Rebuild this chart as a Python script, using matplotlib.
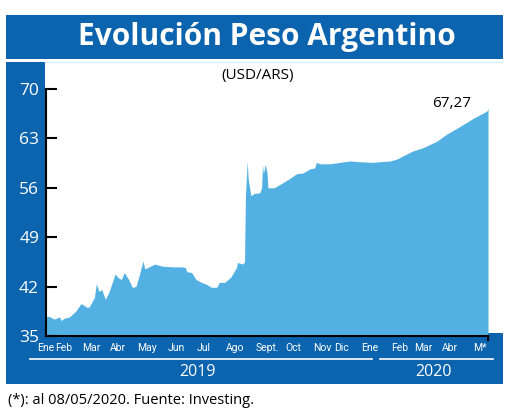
import numpy as np
import matplotlib.pyplot as plt
from matplotlib.patches import Rectangle
from matplotlib.lines import Line2D

# dias desde el 02/01/2019 y cotizacion USD/ARS
dias = [0, 3, 9, 15, 17, 20, 26, 33, 39, 45, 48, 54, 56, 59, 62, 66, 70, 77, 80, 84,
        87, 92, 96, 100, 104, 106, 108, 110, 115, 121, 129, 141, 151, 155, 157, 162,
        167, 173, 179, 184, 190, 193, 199, 206, 212, 213, 219, 221, 222, 224, 225, 228,
        232, 238, 240, 241, 242, 244, 246, 247, 254, 262, 271, 279, 286, 294, 299, 301,
        305, 316, 327, 338, 349, 364, 372, 383, 391, 397, 408, 420, 435, 446, 461, 475,
        491, 492]
valores = [37.7, 37.8, 37.4, 37.7, 37.2, 37.5, 37.7, 38.5, 39.6, 39.1, 39.1, 40.5, 42.4,
           41.3, 41.6, 40.2, 41.2, 43.8, 43.3, 43.0, 44.0, 43.0, 41.9, 42.0, 43.7, 44.7,
           45.6, 44.5, 44.8, 45.2, 44.9, 44.8, 44.8, 44.7, 44.1, 44.0, 43.0, 42.6, 42.3,
           41.9, 41.9, 42.6, 42.6, 43.4, 44.7, 45.4, 45.2, 45.5, 54.9, 59.8, 57.3, 54.9,
           55.2, 55.3, 56.0, 59.3, 58.0, 59.3, 58.2, 56.0, 56.0, 56.6, 57.3, 58.0, 58.1,
           58.7, 58.8, 59.6, 59.4, 59.4, 59.6, 59.8, 59.7, 59.6, 59.7, 59.8, 60.1, 60.5,
           61.2, 61.7, 62.6, 63.6, 64.7, 65.8, 66.9, 67.27]

meses_pos = [0, 20, 50, 80, 112, 145, 175, 211, 247, 275, 308, 329, 360, 394, 420, 450, 483]
meses = ['Ene', 'Feb', 'Mar', 'Abr', 'May', 'Jun', 'Jul', 'Ago', 'Sept.', 'Oct', 'Nov',
         'Dic', 'Ene', 'Feb', 'Mar', 'Abr', 'M*']
yticks = [35, 42, 49, 56, 63, 70]

azul = '#0b64ad'
celeste = '#52b1e2'
W, H = 520, 411

def fx(x):
    return x / W

def fy(y):
    return 1 - y / H

fig = plt.figure(figsize=(5.2, 4.11), dpi=100)
fig.patch.set_facecolor('white')

# banner del titulo
fig.patches.append(Rectangle((fx(6), fy(59)), fx(497), 44 / H, transform=fig.transFigure,
                             facecolor=azul, edgecolor='none', zorder=-2))
# marco azul: columna izquierda y banda inferior
fig.patches.append(Rectangle((fx(6), fy(384)), fx(39), 322 / H, transform=fig.transFigure,
                             facecolor=azul, edgecolor='none', zorder=-2))
fig.patches.append(Rectangle((fx(6), fy(384)), fx(497), 51 / H, transform=fig.transFigure,
                             facecolor=azul, edgecolor='none', zorder=-2))
fig.add_artist(Line2D([fx(45), fx(503)], [fy(62.5), fy(62.5)], color='#d6edf9', lw=1))

fig.text(fx(267), fy(37), 'Evolución Peso Argentino', color='white', fontsize=21.5,
         fontweight='bold', family='Open Sans', ha='center', va='center')
fig.text(fx(258), fy(76), '(USD/ARS)', fontsize=11, family='Open Sans',
         ha='center', va='center')

ax = fig.add_axes([fx(46), fy(336), fx(442), (336 - 89) / H])
ax.patch.set_alpha(0)
ax.fill_between(dias, 35, valores, color=celeste, lw=0)
ax.set_xlim(0, 492)
ax.set_ylim(35, 70)
ax.set_yticks(yticks)
ax.set_xticks(meses_pos, meses)
for s in ['top', 'right']:
    ax.spines[s].set_visible(False)
for s in ['left', 'bottom']:
    ax.spines[s].set_linewidth(1.5)
    ax.spines[s].set_color('black')
ax.tick_params(axis='y', direction='in', length=8, width=1.5, colors='black',
               labelcolor='white', labelsize=12.5, pad=5)
ax.tick_params(axis='x', length=0, labelcolor='white', labelsize=7.5, pad=5)
for lab in ax.get_yticklabels():
    lab.set_family('Open Sans')
for lab in ax.get_xticklabels():
    lab.set_family(['Liberation Sans Narrow', 'Roboto'])
ax.plot([492, 492], [35, 34.4], color='black', lw=1.5, clip_on=False)

ax.annotate('67,27', xy=(dias[-1], valores[-1]), xytext=(-36, 5),
            textcoords='offset pixels', fontsize=11, family='Open Sans',
            ha='center', va='center')

# lineas y etiquetas de los anos
fig.add_artist(Line2D([fx(30), fx(372)], [fy(359), fy(359)], color='white', lw=1.2))
fig.add_artist(Line2D([fx(380), fx(493)], [fy(359), fy(359)], color='white', lw=1.2))
fig.text(fx(197), fy(372), '2019', color='white', fontsize=11.5, family='Open Sans',
         ha='center', va='center')
fig.text(fx(433), fy(372), '2020', color='white', fontsize=11.5, family='Open Sans',
         ha='center', va='center')

fig.text(fx(8), fy(400), '(*): al 08/05/2020. Fuente: Investing.', fontsize=10.5,
         family='Open Sans', ha='left', va='center')

fig.savefig('out.png', dpi=100)
